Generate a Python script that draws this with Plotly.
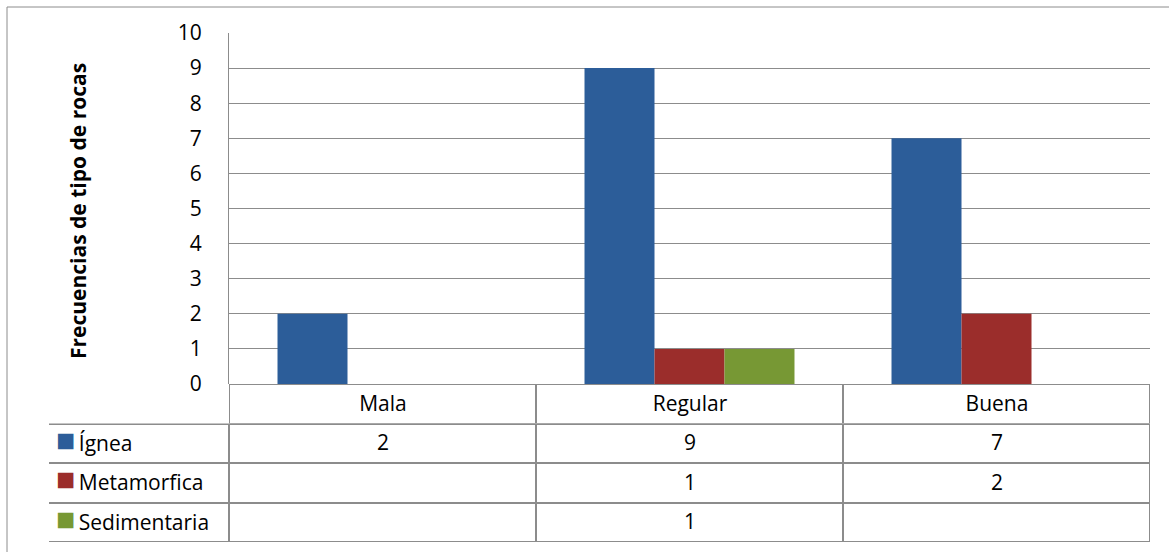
import plotly.graph_objects as go

# ---- data ----
categories = ["Mala", "Regular", "Buena"]
series_names = ["Ígnea", "Metamorfica", "Sedimentaria"]
ignea = [2, 9, 7]
metamorfica = [None, 1, 2]
sedimentaria = [None, 1, None]
y_title = "Frecuencias de tipo de rocas"
y_ticks = list(range(0, 11))

colors = ["#2C5D99", "#9B2D2B", "#779834"]
series_values = [ignea, metamorfica, sedimentaria]

W, H = 1169, 552
FONT = "Open Sans"
FS = 21
GRID = "#8c8c8c"


def px_x(x):
    return x / W


def px_y(y):
    return 1 - y / H


plot_l, plot_r, plot_t, plot_b = 229, 1150, 33, 384
table_l, table_b = 49, 542
cat_w = (plot_r - plot_l) / len(categories)
label_col = (plot_l - table_l) / cat_w  # width of legend column in category units

fig = go.Figure()

for name, vals, col in zip(series_names, series_values, colors):
    fig.add_trace(go.Bar(
        x=categories, y=vals, name=name,
        marker=dict(color=col, line=dict(width=0)),
        showlegend=False, hoverinfo="skip",
    ))


def fmt(v):
    return "" if v is None else str(v)


# data table below the chart, built as a heatmap grid (header row + one row per series)
n_cat = len(categories)
col_x = list(range(-1, n_cat))            # -1 = legend column
row_y = list(range(0, len(series_names) + 1))  # 0 = header row
z = []
txt = []
z.append([None] + [0] * n_cat)
txt.append([""] + categories)
for s in series_values:
    z.append([0] * (n_cat + 1))
    txt.append([""] + [fmt(v) for v in s])

fig.add_trace(go.Heatmap(
    x=col_x, y=row_y, z=z, text=txt, texttemplate="%{text}",
    textfont=dict(family=FONT, size=FS, color="black"),
    colorscale=[[0, "white"], [1, "white"]], showscale=False,
    xgap=2, ygap=2, hoverinfo="skip",
    xaxis="x2", yaxis="y2",
))

legend_ticktext = [
    f'<span style="color:{c};font-size:32px">■</span>\u2009{n}'
    for n, c in zip(series_names, colors)
]

fig.update_layout(
    width=W, height=H,
    margin=dict(l=0, r=0, t=0, b=0),
    paper_bgcolor="white", plot_bgcolor="white",
    barmode="group", bargap=0.316, bargroupgap=0,
    font=dict(family=FONT, size=FS, color="black"),
    xaxis=dict(
        domain=[px_x(plot_l), px_x(plot_r)], automargin=False,
        range=[-0.5, n_cat - 0.5], showticklabels=False, showgrid=False,
        showline=False, zeroline=False, ticks="",
    ),
    yaxis=dict(
        domain=[px_y(plot_b), px_y(plot_t)], automargin=False,
        range=[0, 10], tickvals=y_ticks,
        showgrid=True, gridcolor=GRID, gridwidth=1,
        showline=True, linecolor=GRID, linewidth=1,
        zeroline=True, zerolinecolor=GRID, zerolinewidth=1,
        ticks="", ticklabelstandoff=22,
        tickfont=dict(family=FONT, size=FS, color="black"),
    ),
    xaxis2=dict(
        domain=[px_x(table_l), px_x(plot_r)], anchor="y2", automargin=False,
        range=[-0.5 - label_col, n_cat - 0.5], visible=False,
    ),
    yaxis2=dict(
        domain=[px_y(table_b), px_y(plot_b)], anchor="x2", automargin=False,
        range=[len(series_names) + 0.5, -0.5],
        tickvals=row_y[1:], ticktext=legend_ticktext,
        ticklabelposition="inside", ticklabelstandoff=4,
        showgrid=False, showline=False, zeroline=False, ticks="",
        tickfont=dict(family=FONT, size=FS, color="black"),
    ),
    annotations=[dict(
        text=f"<b>{y_title}</b>", textangle=-90,
        x=px_x(62), y=px_y(211), xref="paper", yref="paper",
        showarrow=False, font=dict(family=FONT, size=21, color="black"),
    )],
    shapes=[
        dict(type="rect", xref="paper", yref="paper",
             x0=px_x(7), x1=1.2, y0=-0.2, y1=px_y(7),
             line=dict(color=GRID, width=1), fillcolor="rgba(0,0,0,0)", layer="below"),
        # table border colour showing through the cell gaps
        dict(type="rect", xref="x2", yref="y2",
             x0=-0.5 - label_col, x1=n_cat - 0.5, y0=0.5, y1=len(series_names) + 0.5,
             line=dict(width=0), fillcolor=GRID, layer="below"),
        dict(type="rect", xref="x2", yref="y2",
             x0=-0.5, x1=n_cat - 0.5, y0=-0.5, y1=0.5,
             line=dict(width=0), fillcolor=GRID, layer="below"),
    ],
)

fig.write_html("out.html")
